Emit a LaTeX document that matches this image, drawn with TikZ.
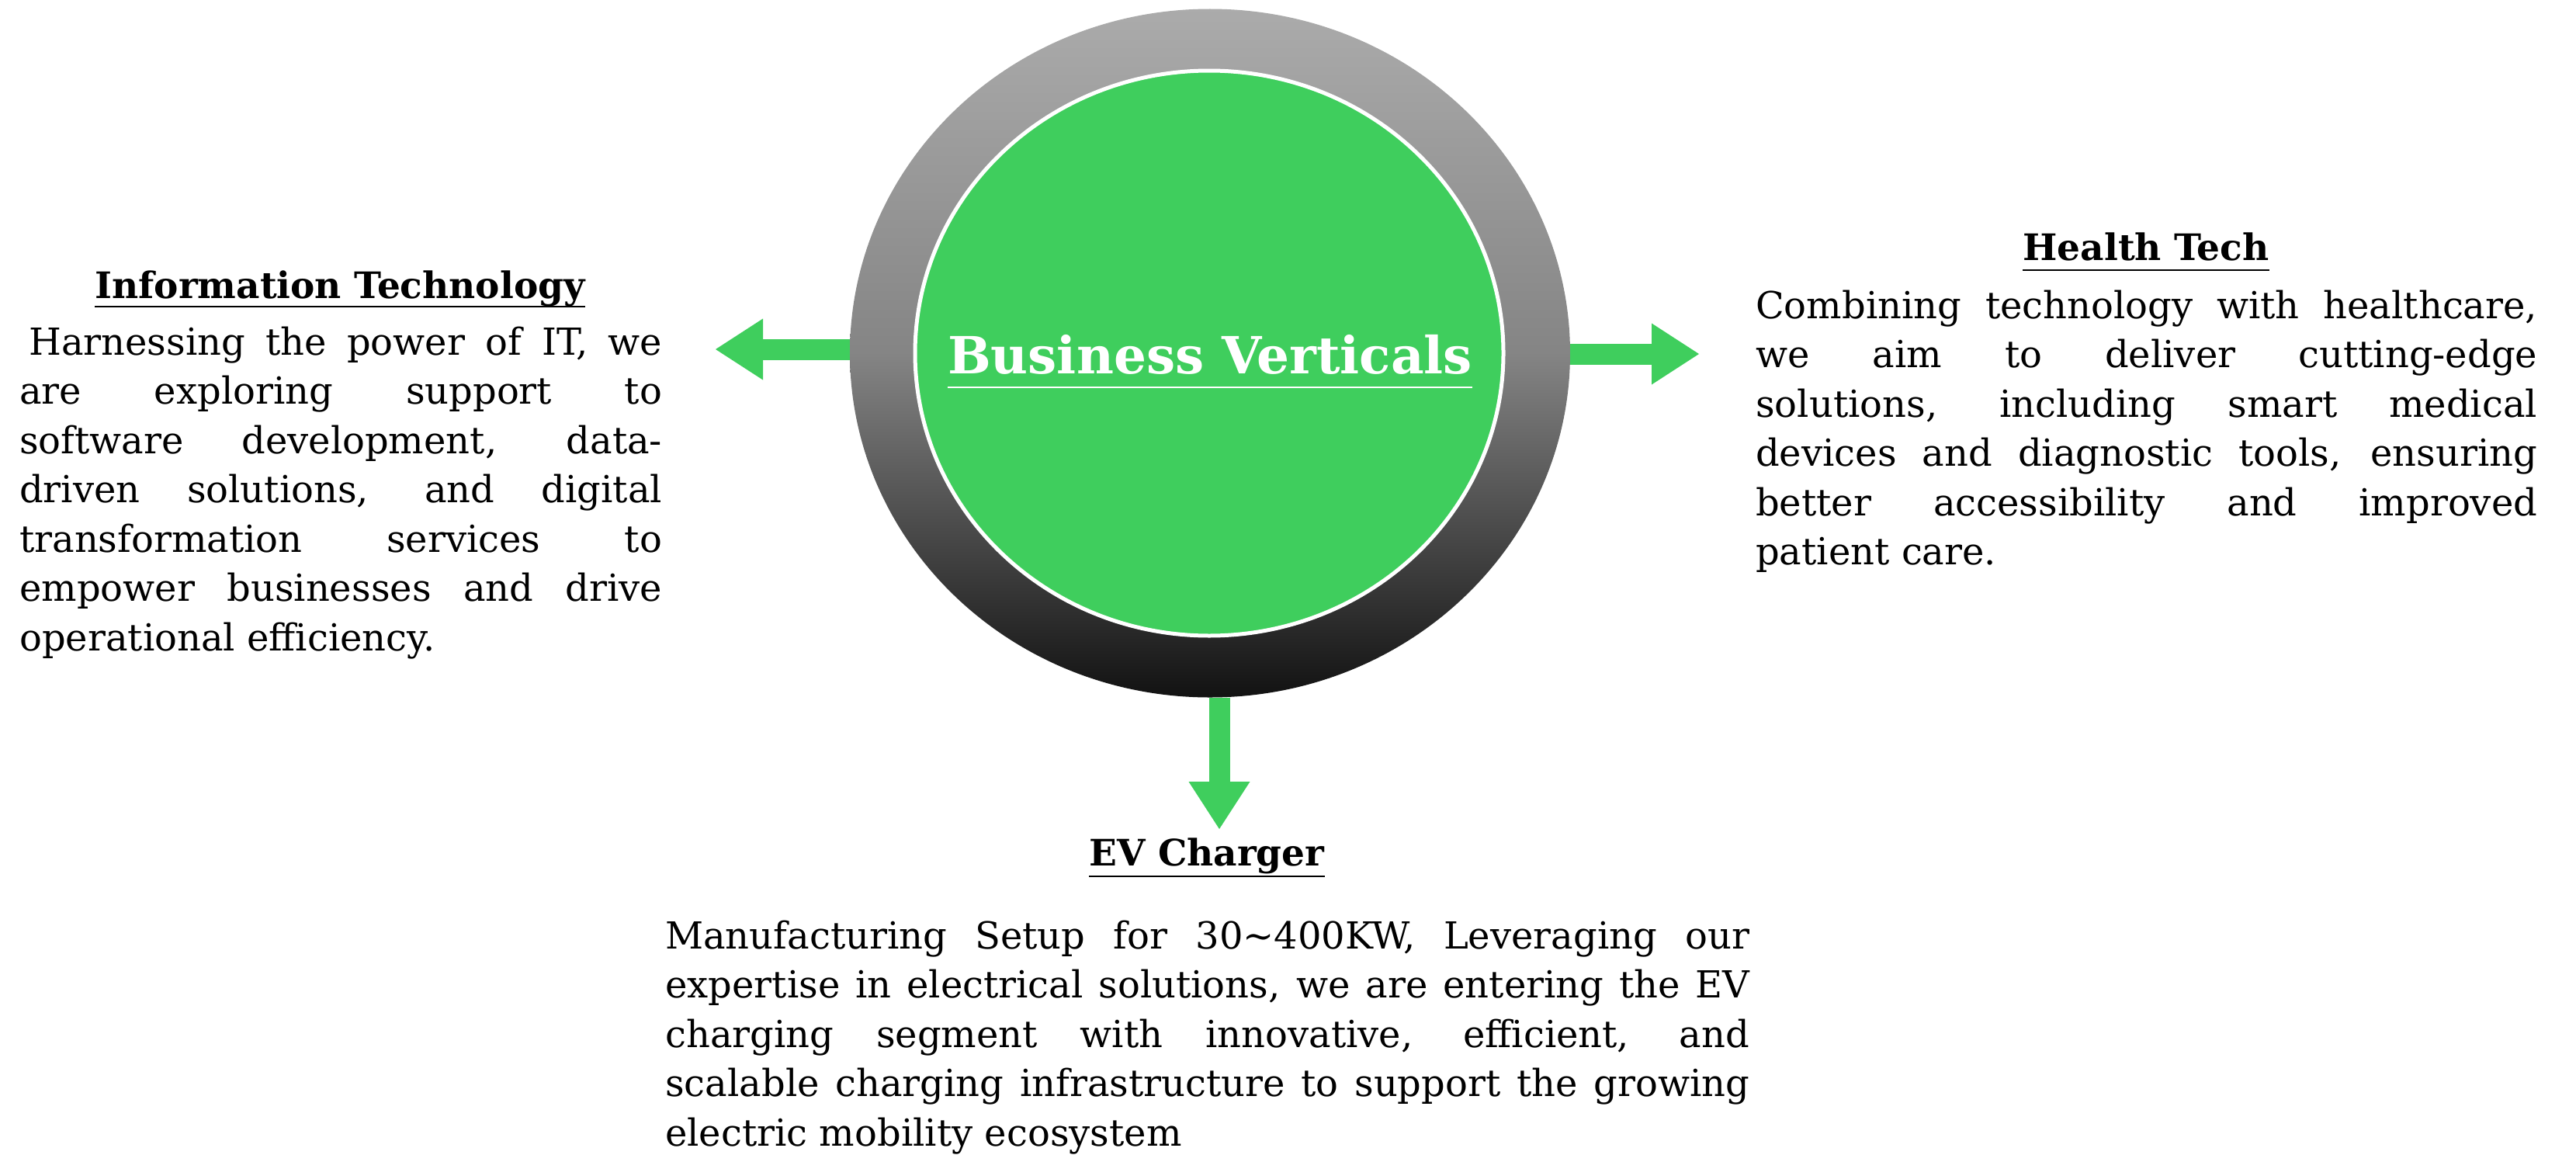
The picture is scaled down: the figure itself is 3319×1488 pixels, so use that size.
\documentclass[tikz,border=0pt]{standalone}
\usepackage{fontspec}
\setmainfont{DejaVu Serif}
\usetikzlibrary{calc}
\usetikzlibrary{shapes,arrows.meta}
\usetikzlibrary{positioning}
\definecolor{vgreen}{RGB}{63,206,93}
\tikzstyle{ring}=[ellipse, inner sep=0pt, minimum width=928pt, minimum height=887pt, top color=black!33, bottom color=black!93, middle color=black!48]
\tikzstyle{hub}=[ellipse, draw=white, line width=5pt, fill=vgreen, inner sep=0pt, minimum width=758pt, minimum height=728pt]
\tikzstyle{head}=[inner sep=0pt, font=\fontsize{47}{56}\selectfont\bfseries]
\tikzstyle{body}=[inner sep=0pt, align=justify, font=\fontsize{48}{63.5}\selectfont]
\tikzstyle{bigarrow}=[-{Triangle[width=79pt,length=61pt,line width=0pt 0 0]}, line width=27pt, color=vgreen]
\hyphenpenalty=10000
\begin{document}
\begin{tikzpicture}[x=1pt, y=-1pt]
\useasboundingbox (0,0) rectangle (3319,1488);

% centre
\node[ring] (ring) at (1559,455) {};
\node[hub] (hub) at (1558,455) {};
\node[inner sep=0pt, text=white, font=\fontsize{66}{72}\selectfont\bfseries, anchor=base] (bv) at (1559,481) {Business Verticals};
\draw[white, line width=2.5pt] ($(bv.base west)+(0,18)$) -- ($(bv.base east)+(0,18)$);

% arrows
\coordinate (itend) at (922,450);
\coordinate (htend) at (2189,456);
\coordinate (evend) at (1571,1068);
\draw[bigarrow] (ring.west |- itend) -- (itend);
\draw[bigarrow] (ring.east |- htend) -- (htend);
\draw[bigarrow] (ring.south -| evend) -- (evend);

% headings
\node[head, anchor=base] (ith) at (438,384) {Information Technology};
\node[head, anchor=base] (hth) at (2765,335) {Health Tech};
\node[head, anchor=base] (evh) at (1555,1115) {EV Charger};
\draw[line width=2.5pt] ($(ith.base west)+(0,11)$) -- ($(ith.base east)+(0,11)$);
\draw[line width=2.5pt] ($(hth.base west)+(0,13)$) -- ($(hth.base east)+(0,13)$);
\draw[line width=2.5pt] ($(evh.base west)+(0,14)$) -- ($(evh.base east)+(0,14)$);

% texts
\node[body, text width=828pt, anchor=base west] (itx) at (25,457) {\hspace*{12pt}Harnessing the power of IT, we\linebreak are exploring support to\linebreak software development, data-\linebreak{}driven solutions, and digital\linebreak transformation services to\linebreak empower businesses and drive\linebreak operational efficiency.};
\node[body, text width=1007pt, anchor=base west] (htx) at (2262,410) {Combining technology with healthcare,\linebreak we aim to deliver cutting-edge\linebreak solutions, including smart medical\linebreak devices and diagnostic tools, ensuring\linebreak better accessibility and improved\linebreak patient care.};
\node[body, text width=1397pt, anchor=base west] (evx) at (857,1222) {Manufacturing Setup for 30\textasciitilde400KW, Leveraging our\linebreak expertise in electrical solutions, we are entering the EV\linebreak charging segment with innovative, efficient, and\linebreak scalable charging infrastructure to support the growing\linebreak electric mobility ecosystem};

\end{tikzpicture}
\end{document}
